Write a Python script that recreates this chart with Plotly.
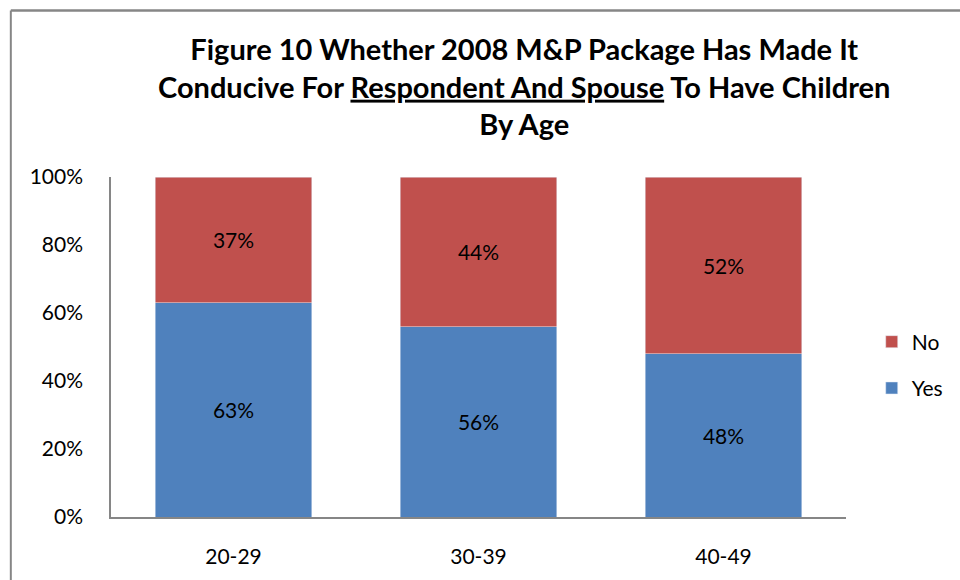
import plotly.graph_objects as go

categories = ["20-29", "30-39", "40-49"]
yes_vals = [63, 56, 48]
no_vals = [37, 44, 52]
y_ticks = [0, 20, 40, 60, 80, 100]
y_tick_labels = ["0%", "20%", "40%", "60%", "80%", "100%"]

BLUE = "#4F81BD"
RED = "#C0504D"
FONT = "Lato"

fig = go.Figure()
fig.add_trace(go.Bar(
    x=categories, y=yes_vals, name="Yes", marker_color=BLUE, legendgroup="yes", legendrank=2,
    text=[f"{v}%" for v in yes_vals], textposition="inside", insidetextanchor="middle",
    textfont=dict(family=FONT, size=21, color="black"), width=0.64,
))
fig.add_trace(go.Bar(
    x=categories, y=no_vals, name="No", marker_color=RED, legendgroup="no", legendrank=1,
    text=[f"{v}%" for v in no_vals], textposition="inside", insidetextanchor="middle",
    textfont=dict(family=FONT, size=21, color="black"), width=0.64,
))

fig.update_layout(
    barmode="stack",
    width=960, height=580,
    margin=dict(l=111, r=108, t=177, b=61),
    paper_bgcolor="white", plot_bgcolor="white",
    font=dict(family=FONT, size=21, color="black"),
    annotations=[dict(
        text="<b>Figure 10 Whether 2008 M&P Package Has Made It<br>Conducive For <u>Respondent And Spouse</u> To Have Children<br>By Age</b>",
        xref="paper", yref="paper", x=0.562, y=1.269, xanchor="center", yanchor="middle",
        showarrow=False, align="center",
        font=dict(family=FONT, size=29, color="black"),
    )],
    legend=dict(
        x=1.035, y=0.447, xanchor="left", yanchor="middle",
        traceorder="grouped", tracegroupgap=16,
        font=dict(family=FONT, size=21, color="black"),
        itemwidth=30,
    ),
    xaxis=dict(
        showline=True, linecolor="#868686", linewidth=1.5,
        ticks="outside", ticklen=0, ticklabelstandoff=20,
        tickfont=dict(family=FONT, size=21),
        showgrid=False,
    ),
    yaxis=dict(
        range=[0, 100], tickvals=y_ticks, ticktext=y_tick_labels,
        showline=True, linecolor="#868686", linewidth=1.5,
        showgrid=False, zeroline=False,
        ticks="outside", ticklen=0, ticklabelstandoff=22,
        tickfont=dict(family=FONT, size=21),
    ),
    shapes=[
        dict(type="line", xref="paper", yref="paper", x0=-0.1363, x1=-0.1363, y0=-0.2, y1=1.49,
             line=dict(color="#868686", width=2)),
        dict(type="line", xref="paper", yref="paper", x0=-0.1363, x1=1.3, y0=1.49, y1=1.49,
             line=dict(color="#868686", width=2.5)),
    ],
)

fig.write_html("out.html")
